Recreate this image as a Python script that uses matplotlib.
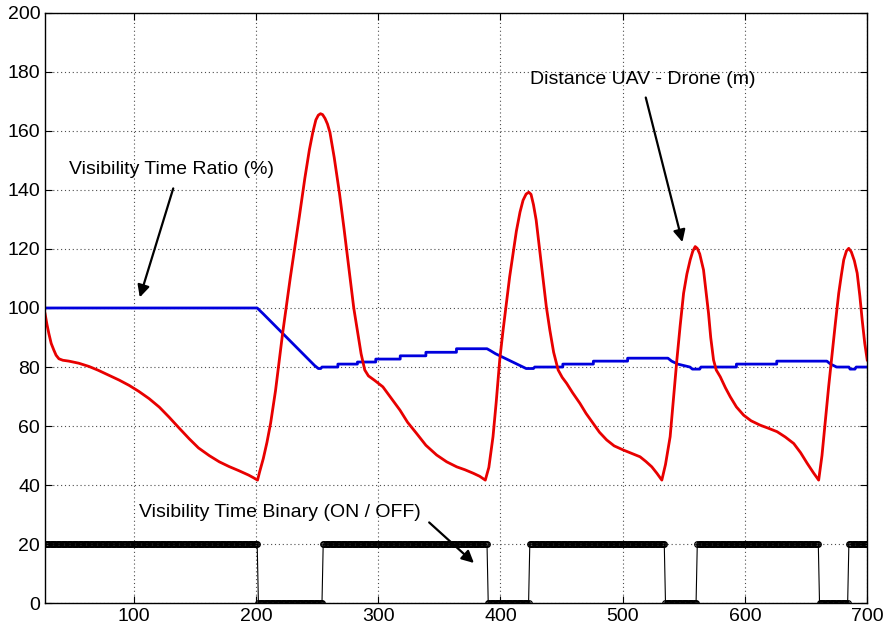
import numpy as np
import matplotlib
matplotlib.use('Agg')
import matplotlib.pyplot as plt

plt.rcParams['font.family'] = ['Liberation Sans', 'DejaVu Sans']

# Distance UAV - Drone (m)
dist_x = [27.5, 29, 30.6, 32.5, 34.7, 36.5, 38.8, 42, 47, 55, 63.4, 71, 79.8,
          88, 96.2, 104, 112.6, 121, 129, 137, 145.4, 153, 161.8, 170, 178,
          186, 194, 198, 201.3,
          203, 206, 209, 212, 216, 221.8, 228, 235.5, 240, 243.7, 246.5, 249,
          251, 252.8,
          254.5, 256.5, 258.5, 260.5, 264, 268.3, 272, 276.5, 280, 283.3, 286,
          289, 292, 297, 303.8, 310, 317.8, 324, 331.4, 339, 347.8, 356, 364.2,
          371, 377.9, 383, 387.6,
          390.5, 393.9, 396.5, 399.4, 402, 404.9, 407.5, 410.3, 413, 416,
          418.5, 421, 423.2, 425, 427, 429.2, 432, 435, 437.5, 440.4, 443.5,
          447.2, 450.5, 454.1, 459, 465, 470, 475.9, 481, 486.9, 493, 500.5,
          507, 514.2, 519, 523.8, 528, 532,
          535, 538.8, 541.5, 544.3, 547, 549.8, 552.5, 555.2, 557.3, 559.3,
          561, 563, 566.1, 568, 570.2, 572, 574.3, 576.5, 579.8, 584, 588,
          593, 598.9, 605, 612.5, 619, 626.3, 633, 639.9, 645.5, 650.9, 656,
          660.3,
          663, 665.8, 668.5, 671.3, 674, 676.7, 678.8, 680.8, 683, 684.9, 687,
          689.5, 691.8, 694, 695.9, 698, 700]
dist_y = [98, 94.5, 91.3, 88, 85.7, 84, 82.8, 82.3, 82, 81.3, 80.2, 78.9, 77.2,
          75.6, 73.8, 71.8, 69.3, 66.4, 63, 59.4, 55.7, 52.6, 50, 47.9, 46.3,
          44.9, 43.4, 42.5, 41.7,
          44.5, 49, 54.5, 61, 72, 91.4, 110, 131, 144, 153.6, 159.5, 163.7,
          165.3, 165.8,
          165.5, 164.2, 162.3, 159.5, 151, 138.9, 127, 111.8, 100, 91.4, 84.5,
          79, 77, 75.5, 73.3, 69.8, 65.4, 61.3, 57.5, 53.5, 50.2, 47.9, 46.2,
          45.2, 44, 43, 41.7,
          46, 56.4, 68, 82.4, 92, 101.6, 110.5, 118.5, 126, 132.5,
          136.5, 138.6, 139.2, 138.5, 135, 129.8, 120, 109.5, 100.5, 92.5, 85,
          79, 76.5, 74.5, 71.3, 67.7, 64.3, 60.9, 57.9, 55.3, 53.3, 51.9,
          50.8, 49.6, 48, 46.2, 44, 41.7,
          47, 56.4, 69, 82.4, 94, 105, 111.5, 116.3, 119.2, 120.8,
          120.2, 118.3, 112.9, 106, 98.2, 90, 82.4, 79, 76.7, 73, 69.9,
          66.5, 63.7, 61.8, 60.3, 59.3, 58.1, 56.3, 54.1, 51, 47.4, 44.2,
          41.7,
          50, 62, 73.5, 84.6, 95, 105, 111, 116.3, 119.3, 120.2, 119,
          116, 111.8, 104, 95.9, 88, 82.4]

# Visibility Time Ratio (%)
ratio_x = [27.5, 201, 206, 212, 218, 224, 230, 236, 242, 248, 251, 253, 254,
           267, 267, 283, 283, 298, 298, 318, 318, 339, 339, 364, 364, 389,
           392, 396, 401, 406, 411, 416, 421, 427, 428, 451, 451, 476, 476,
           504, 504, 537, 540, 545, 550, 555, 557, 563, 564, 593, 593, 626,
           626, 667, 670, 675, 685, 686, 690, 691, 700]
ratio_y = [100, 100, 98, 95.5, 93, 90.5, 88, 85.5, 83, 80.5, 79.5, 79.5, 80,
           80, 81, 81, 81.7, 81.7, 82.7, 82.7, 83.8, 83.8, 85, 85, 86.2, 86.2,
           85.5, 84.5, 83.5, 82.5, 81.5, 80.5, 79.5, 79.5, 80, 80, 81, 81, 82,
           82, 83, 83, 82, 81, 80.5, 80, 79.3, 79.3, 80, 80, 81, 81,
           82, 82, 81, 80, 80, 79.3, 79.3, 80, 80]

# Visibility Time Binary (ON / OFF): ON intervals
on_starts = [28, 255, 424, 561, 685]
on_ends = [201, 389, 534, 660, 700]
ON_LEVEL = 20

bin_x = np.arange(28, 701)
bin_y = [ON_LEVEL if any(s <= t <= e for s, e in zip(on_starts, on_ends)) else 0
         for t in bin_x]

x_ticks = [100, 200, 300, 400, 500, 600, 700]
y_ticks = list(range(0, 201, 20))

fig = plt.figure(figsize=(8.84, 6.37), dpi=100)
ax = fig.add_axes([0.051, 0.053, 0.930, 0.927])

ax.plot(bin_x, bin_y, color='k', lw=0.8, marker='o', ms=4, mfc='none',
        mec='k', mew=0.9)
ax.plot(ratio_x, ratio_y, color='#0000dd', lw=2)
ax.plot(dist_x, dist_y, color='#e80000', lw=2)

ax.set_xlim(27.5, 700)
ax.set_ylim(0, 200)
ax.set_xticks(x_ticks)
ax.set_yticks(y_ticks)
ax.tick_params(direction='in', top=True, right=True, labelsize=14, length=5)
ax.grid(True, color='0.3', lw=0.8, dashes=(1, 2.5))
for s in ax.spines.values():
    s.set_linewidth(1)

arrow = dict(arrowstyle='-|>', color='k', lw=1.6, mutation_scale=18)
ax.text(47, 146.8, 'Visibility Time Ratio (%)', fontsize=14, ha='left', va='center')
ax.annotate('', xy=(104.3, 102.7), xytext=(133, 141.4), arrowprops=arrow)
ax.text(424, 177.3, 'Distance UAV - Drone (m)', fontsize=14, ha='left', va='center')
ax.annotate('', xy=(549.4, 121.4), xytext=(518.3, 172.2), arrowprops=arrow)
ax.text(104.4, 30.8, 'Visibility Time Binary (ON / OFF)', fontsize=14,
        ha='left', va='center')
ax.annotate('', xy=(380, 13), xytext=(340, 28), arrowprops=arrow)

fig.savefig('out.png', dpi=100)
